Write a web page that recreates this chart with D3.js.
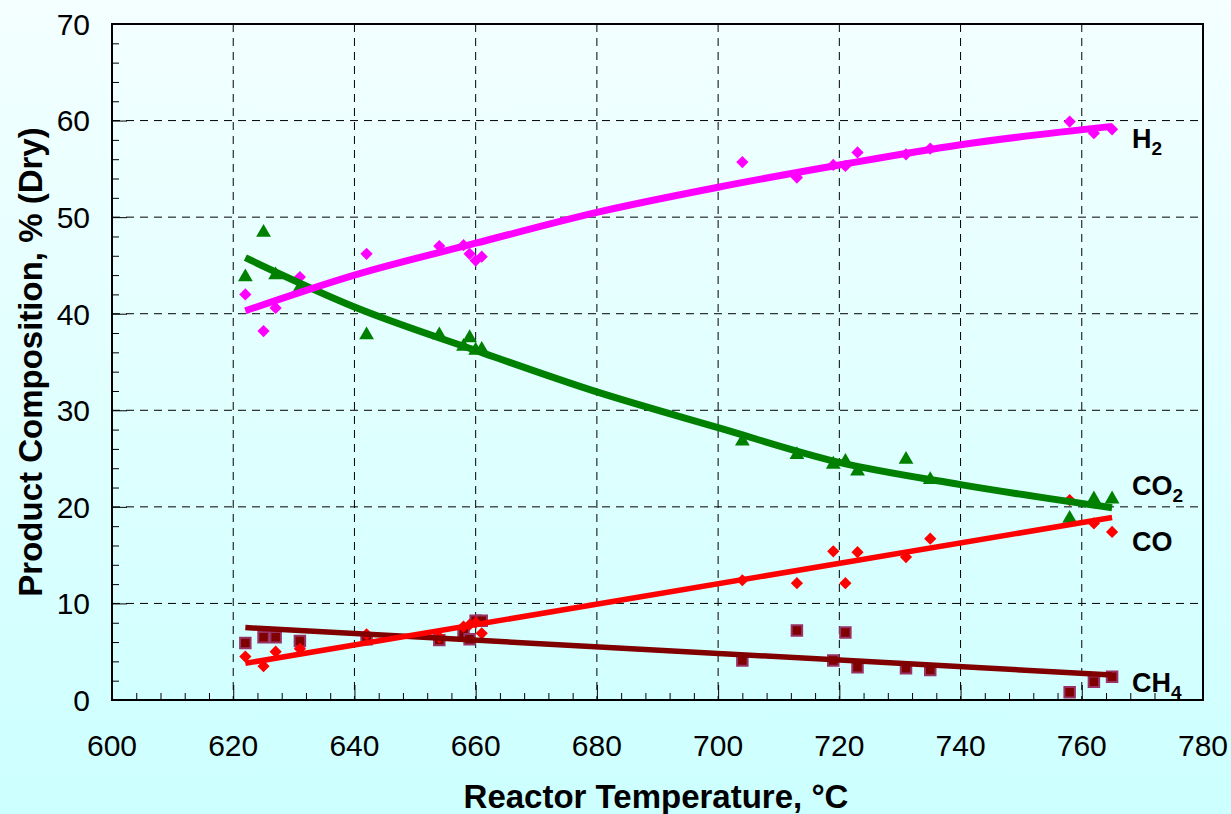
<!DOCTYPE html>
<html>
<head>
<meta charset="utf-8">
<script src="https://cdn.jsdelivr.net/npm/d3@7"></script>
<style>
  html, body { margin: 0; padding: 0; }
  body { width: 1231px; height: 814px; overflow: hidden; }
  text { font-family: "Liberation Sans", Arial, sans-serif; fill: #000; }
</style>
</head>
<body>
<div id="chart"></div>
<script>
// temperatures of the runs (deg C)
const temps = [622, 625, 627, 631, 642, 654, 658, 659, 660, 661, 704, 713, 719, 721, 723, 731, 735, 758, 762, 765];
// measured compositions, % dry
const h2  = [42.0, 38.2, 40.6, 43.8, 46.2, 47.0, 47.1, 46.2, 45.5, 45.9, 55.7, 54.1, 55.4, 55.3, 56.7, 56.5, 57.1, 59.9, 58.7, 59.1];
const co2 = [43.8, 48.4, 44.0, 42.7, 37.8, 37.8, 36.6, 37.5, 36.2, 36.3, 26.8, 25.4, 24.4, 24.7, 23.7, 24.9, 22.8, 18.8, 20.8, 20.8];
const co  = [4.5, 3.5, 5.0, 5.3, 6.8, 6.5, 7.6, 7.8, 8.0, 6.9, 12.4, 12.1, 15.4, 12.1, 15.3, 14.8, 16.7, 20.7, 18.3, 17.4];
const ch4 = [5.9, 6.5, 6.5, 6.1, 6.3, 6.2, 6.9, 6.3, 8.2, 8.2, 4.1, 7.2, 4.1, 7.0, 3.4, 3.3, 3.1, 0.8, 1.9, 2.4];

// trend lines
const trendT   = [622, 640, 660, 680, 700, 720, 740, 765];
const h2Trend  = [40.3, 44.0, 47.3, 50.5, 53.1, 55.4, 57.5, 59.4];
const co2Trend = [45.8, 40.7, 36.2, 31.9, 28.2, 24.6, 22.3, 19.9];
const lineT    = [622, 765];
const coTrend  = [3.8, 18.9];
const ch4Trend = [7.5, 2.6];

const xTicks = [600, 620, 640, 660, 680, 700, 720, 740, 760, 780];
const yTicks = [0, 10, 20, 30, 40, 50, 60, 70];

const W = 1231, H = 814;
const margin = {top: 24, right: 28, bottom: 114, left: 112};
const width = W - margin.left - margin.right,
	height = H - margin.top - margin.bottom;

const svgRoot = d3.select("#chart")
	.append("svg")
	.attr("width", W)
	.attr("height", H);

// page background, light cyan fading downwards
const grad = svgRoot.append("defs").append("linearGradient")
	.attr("id", "bg").attr("x1", 0).attr("y1", 0).attr("x2", 0).attr("y2", 1);
grad.append("stop").attr("offset", "0%").attr("stop-color", "#f4ffff");
grad.append("stop").attr("offset", "100%").attr("stop-color", "#ccffff");
svgRoot.append("rect").attr("width", W).attr("height", H).attr("fill", "url(#bg)");

const svg = svgRoot.append("g")
	.attr("transform", `translate(${margin.left}, ${margin.top})`);

const x = d3.scaleLinear().domain([600, 780]).range([0, width]);
const y = d3.scaleLinear().domain([0, 70]).range([height, 0]);

// dashed grid
svg.append("g")
	.selectAll("line")
	.data(xTicks.slice(1, -1))
	.join("line")
	.attr("x1", d => x(d)).attr("x2", d => x(d))
	.attr("y1", 0).attr("y2", height)
	.attr("stroke", "#000").attr("stroke-width", 1)
	.attr("stroke-dasharray", "8,6");
svg.append("g")
	.selectAll("line")
	.data(yTicks.slice(1, -1))
	.join("line")
	.attr("y1", d => y(d)).attr("y2", d => y(d))
	.attr("x1", 0).attr("x2", width)
	.attr("stroke", "#000").attr("stroke-width", 1)
	.attr("stroke-dasharray", "8,6");

// axes, ticks pointing inside
const xAxis = svg.append("g")
	.attr("transform", `translate(0, ${height})`)
	.call(d3.axisTop(x).tickValues(d3.range(600, 781, 4)).tickSize(7).tickFormat(""));
xAxis.selectAll(".tick line").filter(d => d % 20 === 0).attr("y2", -15);
const yAxis = svg.append("g")
	.call(d3.axisRight(y).tickValues(d3.range(0, 71, 2)).tickSize(7).tickFormat(""));
yAxis.selectAll(".tick line").filter(d => d % 10 === 0).attr("x2", 15);
svg.selectAll(".domain").remove();

// tick labels
svg.append("g")
	.selectAll("text")
	.data(xTicks)
	.join("text")
	.attr("x", d => x(d))
	.attr("y", height + 56)
	.attr("text-anchor", "middle")
	.style("font-size", "30px")
	.text(d => d);
svg.append("g")
	.selectAll("text")
	.data(yTicks)
	.join("text")
	.attr("x", -22)
	.attr("y", d => y(d))
	.attr("dy", "0.36em")
	.attr("text-anchor", "end")
	.style("font-size", "30px")
	.text(d => d);

// frame
svg.append("rect")
	.attr("width", width).attr("height", height)
	.attr("fill", "none").attr("stroke", "#000").attr("stroke-width", 2);

// trend lines
const curve = d3.line().x(d => x(d[0])).y(d => y(d[1])).curve(d3.curveMonotoneX);
const trends = [
	{t: lineT, v: ch4Trend, color: "#800000", w: 5.5},
	{t: lineT, v: coTrend, color: "#ff0000", w: 5.5},
	{t: trendT, v: co2Trend, color: "#008000", w: 7},
	{t: trendT, v: h2Trend, color: "#ff00ff", w: 7}
];

// points
const pts = (vals) => temps.map((t, i) => [t, vals[i]]);

svg.append("g")
	.selectAll("path")
	.data(pts(ch4))
	.join("path")
	.attr("d", d3.symbol(d3.symbolSquare, 110))
	.attr("transform", d => `translate(${x(d[0])}, ${y(d[1])})`)
	.attr("fill", "#800000").attr("stroke", "#993366").attr("stroke-width", 2);

svg.append("g")
	.selectAll("path")
	.data(pts(co))
	.join("path")
	.attr("d", d3.symbol(d3.symbolSquare, 75))
	.attr("transform", d => `translate(${x(d[0])}, ${y(d[1])}) rotate(45)`)
	.attr("fill", "#ff0000");

svg.append("g")
	.selectAll("path")
	.data(pts(co2))
	.join("path")
	.attr("d", d3.symbol(d3.symbolTriangle, 95))
	.attr("transform", d => `translate(${x(d[0])}, ${y(d[1])})`)
	.attr("fill", "#008000");

svg.append("g")
	.selectAll("path")
	.data(pts(h2))
	.join("path")
	.attr("d", d3.symbol(d3.symbolSquare, 75))
	.attr("transform", d => `translate(${x(d[0])}, ${y(d[1])}) rotate(45)`)
	.attr("fill", "#ff00ff");

svg.append("g")
	.selectAll("path")
	.data(trends)
	.join("path")
	.attr("d", d => curve(d.t.map((t, i) => [t, d.v[i]])))
	.attr("fill", "none")
	.attr("stroke", d => d.color)
	.attr("stroke-width", d => d.w);

// series labels
const labels = [
	{main: "H", sub: "2", t: 765, v: 58.2},
	{main: "CO", sub: "2", t: 765, v: 22.3},
	{main: "CO", sub: "", t: 765, v: 16.5},
	{main: "CH", sub: "4", t: 765, v: 1.9}
];
const lab = svg.append("g")
	.selectAll("text")
	.data(labels)
	.join("text")
	.attr("x", d => x(d.t) + 20)
	.attr("y", d => y(d.v) + 10)
	.style("font-size", "27px")
	.style("font-weight", "bold");
lab.append("tspan").text(d => d.main);
lab.append("tspan").attr("dy", 7).style("font-size", "19px").text(d => d.sub);

// axis titles
svgRoot.append("text")
	.attr("x", 656)
	.attr("y", 808)
	.attr("text-anchor", "middle")
	.style("font-size", "33px")
	.style("font-weight", "bold")
	.text("Reactor Temperature, °C");
svgRoot.append("text")
	.attr("transform", `translate(42, 362) rotate(-90)`)
	.attr("text-anchor", "middle")
	.style("font-size", "33px")
	.style("font-weight", "bold")
	.text("Product Composition, % (Dry)");
</script>
</body>
</html>
